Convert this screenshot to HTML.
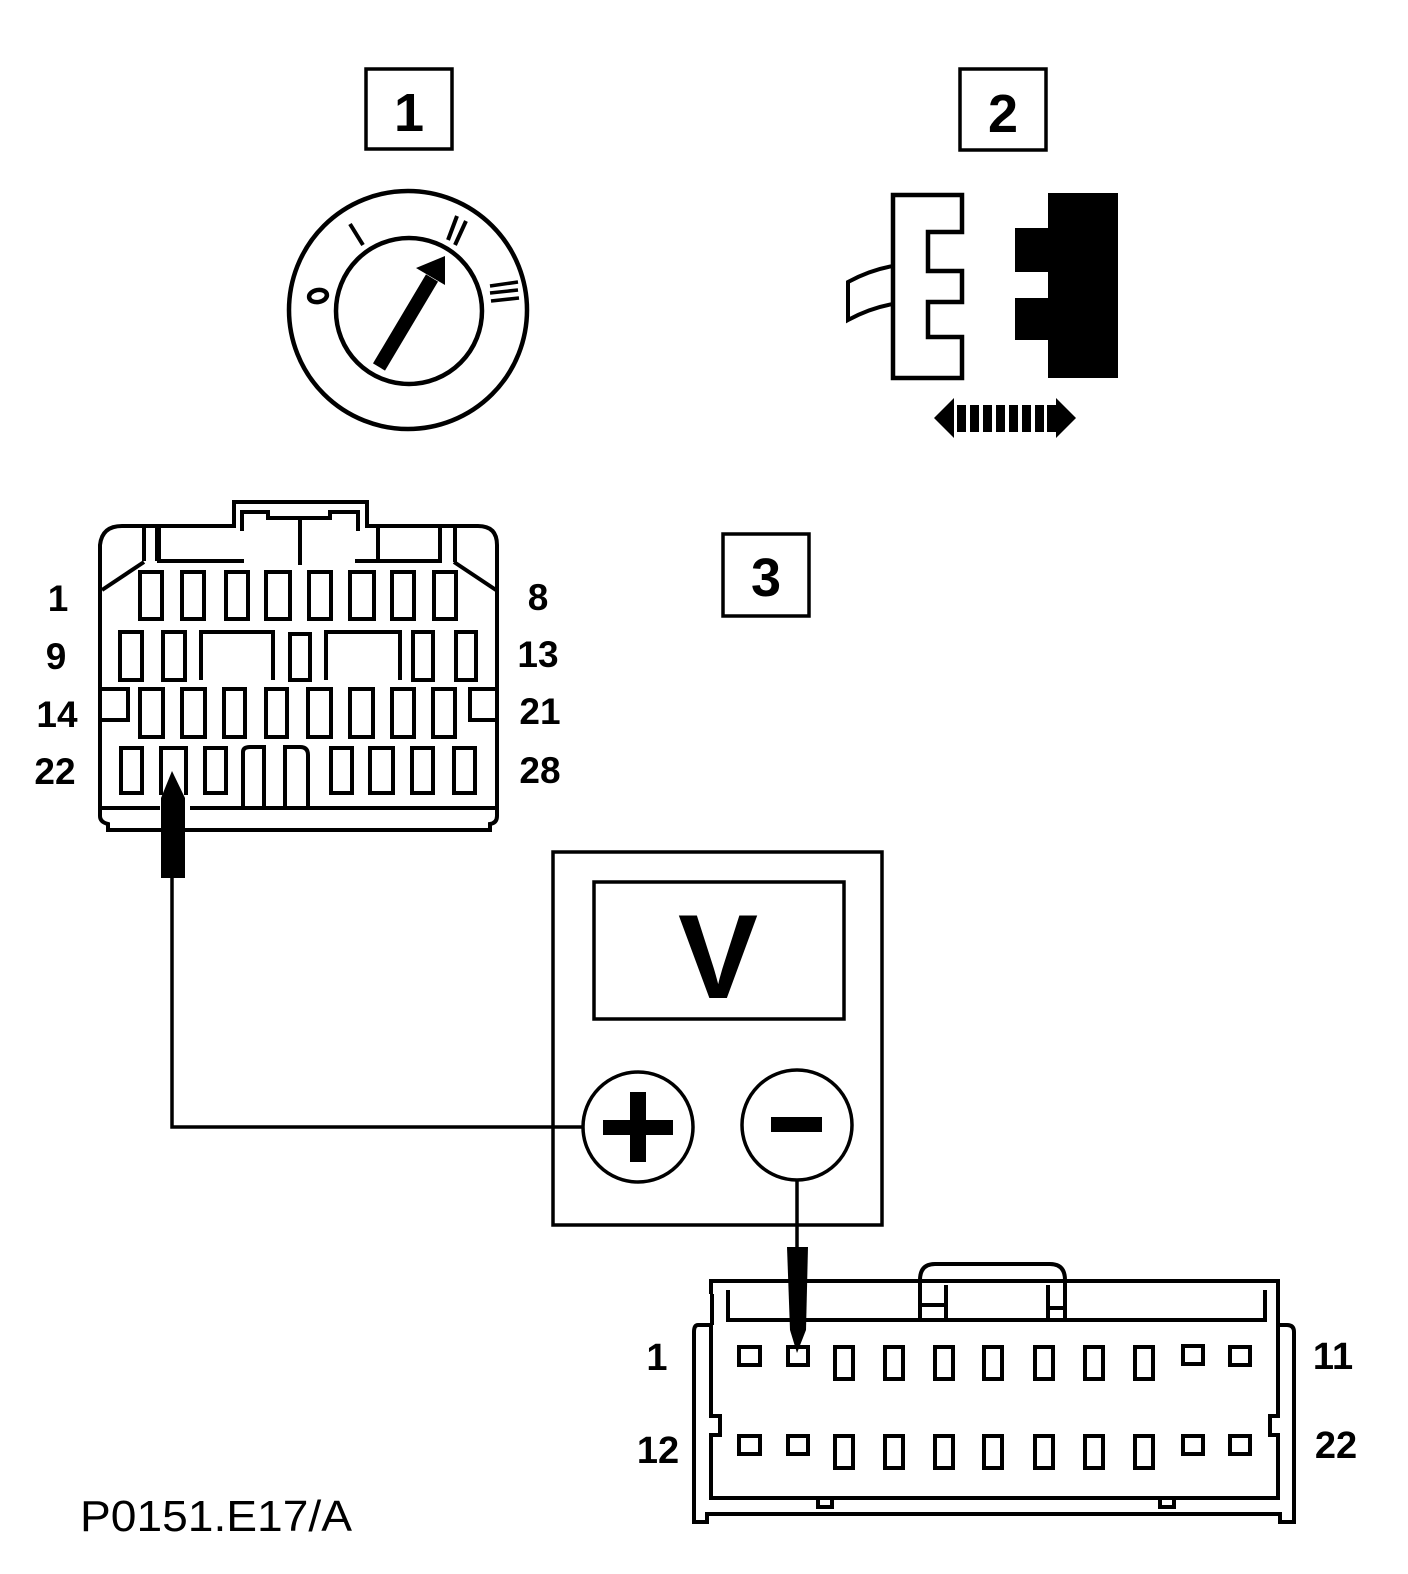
<!DOCTYPE html>
<html><head><meta charset="utf-8"><style>html,body{margin:0;padding:0;background:#fff}svg{display:block}</style></head><body>
<svg width="1408" height="1574" viewBox="0 0 1408 1574" xmlns="http://www.w3.org/2000/svg" font-family="Liberation Sans, Arial, sans-serif" font-weight="bold">
<g fill="none" stroke="#000" stroke-width="3.5">
<rect x="366" y="69" width="86" height="80"/>
<rect x="960" y="69" width="86" height="81"/>
<rect x="723" y="534" width="86" height="82"/>
</g>
<text x="409" y="131" font-size="54" text-anchor="middle">1</text>
<text x="1003" y="132" font-size="54" text-anchor="middle">2</text>
<text x="766" y="596" font-size="54" text-anchor="middle">3</text>

<!-- switch -->
<g fill="none" stroke="#000" stroke-width="4.5">
<circle cx="408" cy="310" r="119"/>
<circle cx="409" cy="311" r="73"/>
<line x1="350" y1="224" x2="363" y2="245" stroke-width="4"/>
<line x1="448" y1="240" x2="457" y2="216" stroke-width="4"/>
<line x1="455" y1="245" x2="466" y2="221" stroke-width="4"/>
<ellipse cx="318" cy="296" rx="9" ry="6" transform="rotate(-10 318 296)"/>
<line x1="490" y1="286" x2="518" y2="282" stroke-width="3.5"/>
<line x1="490" y1="293" x2="518" y2="290" stroke-width="3.5"/>
<line x1="491" y1="301" x2="519" y2="298" stroke-width="3.5"/>
</g>
<line x1="379" y1="367" x2="432" y2="278" stroke="#000" stroke-width="14"/>
<polygon points="445,256 416,268 445,285" fill="#000"/>

<!-- connector 2 -->
<path d="M893,195 H962 V232 H928 V271 H962 V302 H928 V337 H962 V378 H893 Z" fill="none" stroke="#000" stroke-width="4.5"/>
<path d="M893,266 Q870,270 848,282 V320 Q870,308 893,304" fill="none" stroke="#000" stroke-width="4"/>
<path d="M1048,193 H1118 V378 H1048 V340 H1015 V298 H1048 V272 H1015 V228 H1048 Z" fill="#000"/>
<polygon points="934,418 954,398 954,438" fill="#000"/>
<polygon points="1076,418 1056,398 1056,438" fill="#000"/>
<g fill="#000"><rect x="957" y="405" width="9" height="27"/><rect x="970" y="405" width="9" height="27"/><rect x="983" y="405" width="9" height="27"/><rect x="996" y="405" width="9" height="27"/><rect x="1009" y="405" width="9" height="27"/><rect x="1022" y="405" width="9" height="27"/><rect x="1035" y="405" width="9" height="27"/><rect x="1047" y="405" width="9" height="27"/></g>

<!-- connector top-left -->
<g fill="none" stroke="#000" stroke-width="4">
<path d="M100,545 Q102,526 122,526 H234 V502 H367 V526 H478 Q497,526 497,545 V816 Q497,823 490,824 V830 H108 V824 Q100,822 100,816 Z"/>
<path d="M242,531 V512 H268 V518 H330 V512 H358 V531"/>
<line x1="300" y1="520" x2="300" y2="565"/>
<path d="M144,528 V561 M159,526 V561 H244 M157,561 V526"/>
<path d="M355,561 H440 V526 M378,561 V526 M455,528 V562"/>
<path d="M102,590 L144,562 M496,590 L454,562"/>
<line x1="102" y1="808" x2="160" y2="808"/><line x1="190" y1="808" x2="496" y2="808"/>
<path d="M101,689 H128 V720 H102 M496,689 H470 V720 H496"/>
</g>
<g fill="none" stroke="#000" stroke-width="4">
<rect x="140" y="572" width="22" height="47"/><rect x="182" y="572" width="22" height="47"/><rect x="226" y="572" width="22" height="47"/><rect x="266" y="572" width="24" height="47"/><rect x="309" y="572" width="22" height="47"/><rect x="350" y="572" width="24" height="47"/><rect x="392" y="572" width="22" height="47"/><rect x="434" y="572" width="22" height="47"/>
<rect x="120" y="632" width="22" height="48"/><rect x="163" y="632" width="22" height="48"/>
<path d="M201,680 V632 H273 V680"/><rect x="290" y="634" width="20" height="46"/><path d="M326,680 V632 H400 V680"/>
<rect x="413" y="632" width="20" height="48"/><rect x="456" y="632" width="20" height="48"/>
<rect x="140" y="689" width="23" height="48"/><rect x="182" y="689" width="23" height="48"/><rect x="224" y="689" width="21" height="48"/><rect x="266" y="689" width="21" height="48"/><rect x="308" y="689" width="23" height="48"/><rect x="350" y="689" width="23" height="48"/><rect x="392" y="689" width="22" height="48"/><rect x="433" y="689" width="22" height="48"/>
<rect x="121" y="748" width="21" height="45"/><path d="M161,795 V748 H186 V795"/><rect x="205" y="748" width="21" height="45"/>
<path d="M243,808 V752 Q243,747 250,747 H264 V808 M285,808 V747 H300 Q308,747 308,755 V808"/>
<rect x="331" y="748" width="21" height="45"/><rect x="370" y="748" width="23" height="45"/><rect x="412" y="748" width="21" height="45"/><rect x="454" y="748" width="21" height="45"/>
</g>
<polygon points="172,771 161,798 161,878 185,878 185,798" fill="#000"/>
<g font-size="37" text-anchor="middle">
<text x="58" y="611">1</text><text x="56" y="669">9</text><text x="57" y="727">14</text><text x="55" y="784">22</text>
<text x="538" y="610">8</text><text x="538" y="667">13</text><text x="540" y="724">21</text><text x="540" y="783">28</text>
</g>

<!-- voltmeter -->
<g fill="none" stroke="#000" stroke-width="3.5">
<rect x="553" y="852" width="329" height="373"/>
<rect x="594" y="882" width="250" height="137"/>
<circle cx="638" cy="1127" r="55"/>
<circle cx="797" cy="1125" r="55"/>
<polyline points="583,1127 172,1127 172,878"/>
<line x1="797" y1="1180" x2="797" y2="1250"/>
</g>
<text x="718" y="998" font-size="120" text-anchor="middle">V</text>
<rect x="603" y="1120" width="70" height="15" fill="#000"/><rect x="630" y="1092" width="16" height="70" fill="#000"/>
<rect x="771" y="1117" width="51" height="15" fill="#000"/>
<polygon points="787,1247 808,1247 806,1330 797,1353 790,1330" fill="#000"/>

<!-- lower connector -->
<g fill="none" stroke="#000" stroke-width="4">
<path d="M711,1294 V1281 H1278 V1325 M712,1294 V1325"/>
<path d="M728,1290 V1320 H1265 V1290"/>
<path d="M920,1320 V1280 Q920,1264 935,1264 H1050 Q1065,1264 1065,1280 V1322"/>
<path d="M921,1305 H946 V1320 M1063,1308 H1048 V1320 M946,1285 V1320 M1048,1285 V1320"/>
<path d="M711,1325 H698 Q694,1325 694,1332 V1522 H707 V1514 H1280 V1522 H1294 V1332 Q1294,1325 1287,1325 H1278"/>
<path d="M711,1325 V1416 H720 V1435 H711 V1498 H1278 V1435 H1270 V1416 H1278 V1325"/>
<path d="M818,1498 V1507 H832 V1498 M1160,1498 V1507 H1174 V1498"/>
</g>
<g fill="none" stroke="#000" stroke-width="4">
<rect x="739" y="1347" width="21" height="18"/><rect x="788" y="1347" width="20" height="18"/>
<rect x="835" y="1347" width="18" height="32"/><rect x="885" y="1347" width="18" height="32"/><rect x="935" y="1347" width="18" height="32"/><rect x="984" y="1347" width="18" height="32"/><rect x="1035" y="1347" width="18" height="32"/><rect x="1085" y="1347" width="18" height="32"/><rect x="1135" y="1347" width="18" height="32"/>
<rect x="1183" y="1346" width="20" height="18"/><rect x="1230" y="1347" width="20" height="18"/>
<rect x="739" y="1436" width="21" height="18"/><rect x="788" y="1436" width="20" height="18"/>
<rect x="835" y="1436" width="18" height="32"/><rect x="885" y="1436" width="18" height="32"/><rect x="935" y="1436" width="18" height="32"/><rect x="984" y="1436" width="18" height="32"/><rect x="1035" y="1436" width="18" height="32"/><rect x="1085" y="1436" width="18" height="32"/><rect x="1135" y="1436" width="18" height="32"/>
<rect x="1183" y="1436" width="20" height="18"/><rect x="1230" y="1436" width="20" height="18"/>
</g>
<g font-size="38" text-anchor="middle">
<text x="657" y="1370">1</text><text x="658" y="1463">12</text><text x="1333" y="1369">11</text><text x="1336" y="1458">22</text>
</g>
<text x="80" y="1531" font-size="44" font-weight="normal" textLength="272" lengthAdjust="spacingAndGlyphs">P0151.E17/A</text>
</svg>
</body></html>
